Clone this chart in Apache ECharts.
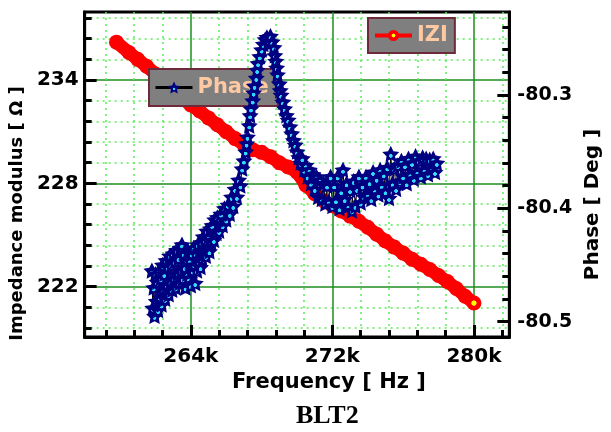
<!DOCTYPE html>
<html>
<head>
<meta charset="utf-8">
<script src="https://cdn.jsdelivr.net/npm/echarts@6/dist/echarts.min.js"></script>
<style>
  html, body { margin: 0; padding: 0; background: #fff; }
  #main { width: 611px; height: 432px; }
</style>
</head>
<body>
<div id="main"></div>
<script>
// |Z| curve (kHz, Ohm)
var freqZ = [259.8, 260.5, 261.0, 261.5, 262.0, 262.5, 263.0, 263.5, 264.0, 264.5, 265.0,
  265.5, 266.0, 266.5, 267.0, 267.5, 268.0, 268.5, 269.0, 269.5, 270.0, 270.5, 271.0,
  271.5, 272.0, 272.5, 273.0, 273.5, 274.0, 274.5, 275.0, 275.5, 276.0, 276.5, 277.0,
  277.5, 278.0, 278.5, 279.0, 279.5, 280.0];
var impedance = [236.2, 235.6, 235.2, 234.8, 234.35, 233.9, 233.45, 232.95, 232.55, 232.2, 231.8,
  231.4, 231.0, 230.6, 230.25, 229.95, 229.8, 229.55, 229.2, 228.95, 228.65, 227.9, 227.4,
  227.0, 226.7, 226.4, 226.1, 225.8, 225.45, 225.05, 224.65, 224.3, 223.95, 223.6, 223.3,
  223.0, 222.65, 222.3, 221.9, 221.45, 221.05];

// phase curve (kHz, deg)
var freqPhase = [
  261.8, 261.85, 261.9, 261.95, 262.0, 262.05, 262.1, 262.15, 262.2, 262.25,
  262.3, 262.35, 262.4, 262.45, 262.5, 262.55, 262.6, 262.65, 262.7, 262.75,
  262.8, 262.85, 262.9, 262.95, 263.0, 263.05, 263.1, 263.15, 263.2, 263.25,
  263.3, 263.35, 263.4, 263.45, 263.5, 263.55, 263.6, 263.65, 263.7, 263.75,
  263.8, 263.85, 263.9, 263.95, 264.0, 264.05, 264.1, 264.15, 264.2, 264.25,
  264.3, 264.35, 264.4, 264.45, 264.5, 264.55, 264.6, 264.65, 264.7, 264.75,
  264.8, 264.85, 264.9, 264.95, 265.0, 265.05, 265.1, 265.15, 265.2, 265.3,
  265.35, 265.45, 265.5, 265.6, 265.7, 265.8, 265.9, 266.0, 266.1, 266.2,
  266.3, 266.4, 266.5, 266.6, 266.7, 266.8, 266.9, 267.0, 267.1, 267.15,
  267.2, 267.3, 267.35, 267.4, 267.5, 267.55, 267.6, 267.7, 267.75, 267.8,
  267.9, 268.0, 268.1, 268.2, 268.3, 268.4, 268.5, 268.6, 268.7, 268.75,
  268.8, 268.85, 268.9, 269.0, 269.05, 269.1, 269.2, 269.3, 269.4, 269.5,
  269.6, 269.7, 269.8, 269.9, 270.0, 270.1, 270.2,
  270.3, 270.4, 270.5, 270.6, 270.7, 270.8, 270.9, 271.0, 271.1, 271.2,
  271.3, 271.4, 271.5, 271.6, 271.7, 271.8, 271.9, 272.0, 272.1, 272.2,
  272.3, 272.4, 272.5, 272.6, 272.7, 272.8, 272.9, 273.0, 273.1, 273.2,
  273.3, 273.4, 273.5, 273.6, 273.7, 273.8, 273.9, 274.0, 274.1, 274.2,
  274.3, 274.4, 274.5, 274.6, 274.7, 274.8, 274.9, 275.0, 275.1, 275.2,
  275.3, 275.4, 275.5, 275.6, 275.7, 275.8, 275.9, 276.0, 276.1, 276.2,
  276.3, 276.4, 276.5, 276.6, 276.7, 276.8, 276.9, 277.0, 277.1, 277.2,
  277.3, 277.4, 277.5, 277.6, 277.7, 277.8, 277.9];
var phase = [
  -80.455, -80.488, -80.47, -80.495, -80.458, -80.482, -80.465, -80.49, -80.455, -80.478,
  -80.462, -80.485, -80.45, -80.472, -80.458, -80.48, -80.446, -80.468, -80.452, -80.476,
  -80.442, -80.465, -80.45, -80.472, -80.44, -80.462, -80.447, -80.47, -80.437, -80.458,
  -80.444, -80.466, -80.435, -80.455, -80.432, -80.462, -80.44, -80.452, -80.47, -80.445,
  -80.458, -80.438, -80.462, -80.446, -80.468, -80.44, -80.455, -80.435, -80.45, -80.466,
  -80.44, -80.455, -80.432, -80.448, -80.438, -80.452, -80.43, -80.445, -80.425, -80.44,
  -80.428, -80.442, -80.42, -80.435, -80.425, -80.438, -80.418, -80.43, -80.415, -80.428,
  -80.41, -80.422, -80.408, -80.42, -80.405, -80.415, -80.4, -80.41, -80.397, -80.405,
  -80.39, -80.398, -80.383, -80.39, -80.375, -80.38, -80.365, -80.358, -80.35, -80.343,
  -80.337, -80.327, -80.318, -80.312, -80.305, -80.298, -80.292, -80.285, -80.278, -80.272,
  -80.266, -80.26, -80.255, -80.251, -80.249, -80.252, -80.248, -80.253, -80.258, -80.265,
  -80.27, -80.276, -80.282, -80.29, -80.296, -80.3, -80.306, -80.312, -80.318, -80.322,
  -80.328, -80.334, -80.34, -80.344, -80.35, -80.355, -80.36,
  -80.356, -80.366, -80.362, -80.372, -80.366, -80.378, -80.37, -80.383, -80.372, -80.39,
  -80.375, -80.392, -80.378, -80.396, -80.38, -80.394, -80.372, -80.398, -80.38, -80.393,
  -80.372, -80.4, -80.385, -80.366, -80.392, -80.378, -80.398, -80.384, -80.402, -80.376,
  -80.398, -80.383, -80.372, -80.395, -80.38, -80.39, -80.372, -80.388, -80.377, -80.392,
  -80.368, -80.384, -80.374, -80.388, -80.366, -80.38, -80.37, -80.385, -80.364, -80.391,
  -80.352, -80.378, -80.365, -80.383, -80.362, -80.376, -80.358, -80.372, -80.362, -80.378,
  -80.356, -80.37, -80.36, -80.374, -80.354, -80.368, -80.358, -80.372, -80.355, -80.366,
  -80.356, -80.37, -80.357, -80.365, -80.356, -80.368, -80.36];

// ticks
var xTicks = [264, 272, 280];
var xTickLabels = ['264k', '272k', '280k'];
var xMinor = [259.2, 260.8, 262.4, 265.6, 267.2, 268.8, 270.4, 273.6, 275.2, 276.8, 278.4, 281.6];
var zTicks = [222, 228, 234];
var zTickLabels = ['222', '228', '234'];
var zMinor = [219.6, 220.8, 223.2, 224.4, 225.6, 226.8, 229.2, 230.4, 231.6, 232.8, 235.2, 236.4, 237.6];
var phTicks = [-80.5, -80.4, -80.3];
var phTickLabels = ['-80.5', '-80.4', '-80.3'];
var phMinor = [-80.48, -80.46, -80.44, -80.42, -80.38, -80.36, -80.34, -80.32, -80.28, -80.26, -80.24];

var FONT = 'DejaVu Sans';
var peach = '#fcc9a2';

var starPath = 'path://M50,0 L64.7,29.8 L97.6,34.5 L73.8,57.7 L79.4,90.5 L50,75 L20.6,90.5 L26.2,57.7 L2.4,34.5 L35.3,29.8 Z';
var starFill = {
  type: 'radial', x: 0.5, y: 0.62, r: 0.5,
  colorStops: [{offset: 0, color: '#33d6ff'}, {offset: 0.2, color: '#33d6ff'},
               {offset: 0.26, color: '#000080'}, {offset: 1, color: '#000080'}]
};
var dotFill = {
  type: 'radial', x: 0.5, y: 0.5, r: 0.5,
  colorStops: [{offset: 0, color: '#ffff00'}, {offset: 0.3, color: '#ffff00'},
               {offset: 0.4, color: '#ff0000'}, {offset: 1, color: '#ff0000'}]
};

function pick(vals, labels) {
  return function (v) {
    for (var i = 0; i < vals.length; i++) if (Math.abs(vals[i] - v) < 1e-6) return labels[i];
    return '';
  };
}

var zData = freqZ.map(function (f, i) {
  if (i === freqZ.length - 1) return {value: [f, impedance[i]], itemStyle: {color: dotFill}};
  return [f, impedance[i]];
});
var phData = freqPhase.map(function (f, i) { return [f, phase[i]]; });

var labelStyle = {fontFamily: FONT, fontWeight: 'bold', fontSize: 20, color: '#000'};

var chart = echarts.init(document.getElementById('main'));
chart.setOption({
  animation: false,
  backgroundColor: '#fff',
  title: {
    text: 'BLT2', left: 291, top: 398,
    textStyle: {fontFamily: 'Liberation Serif', fontWeight: 'bold', fontSize: 26, color: '#000'}
  },
  grid: {left: 83, right: 91, top: 12, bottom: 95, show: true, borderColor: '#000', borderWidth: 3},
  legend: [{
    data: ['Phase'], left: 149, top: 69, orient: 'horizontal',
    itemWidth: 37, itemHeight: 15,
    backgroundColor: '#7f7f7f', borderColor: '#6e2a3a', borderWidth: 2, borderRadius: 0,
    padding: [6, 9, 6, 5],
    lineStyle: {width: 3, color: '#000'},
    textStyle: {fontFamily: FONT, fontWeight: 'bold', fontSize: 21, color: peach, lineHeight: 25}
  }, {
    data: [{name: 'IZI', itemStyle: {color: dotFill}}], left: 368, top: 18,
    itemWidth: 37, itemHeight: 14,
    backgroundColor: '#7f7f7f', borderColor: '#6e2a3a', borderWidth: 2, borderRadius: 0,
    padding: [5, 7, 5, 5],
    lineStyle: {width: 4, color: '#ff0000'},
    textStyle: {fontFamily: FONT, fontWeight: 'bold', fontSize: 21, color: peach, lineHeight: 25}
  }],
  xAxis: [{
    type: 'value', min: 258, max: 282, position: 'bottom',
    axisLine: {lineStyle: {color: '#000', width: 3}},
    axisTick: {inside: true, length: 12, lineStyle: {color: '#000', width: 3}, customValues: xTicks},
    axisLabel: Object.assign({customValues: xTicks, formatter: pick(xTicks, xTickLabels), margin: 10}, labelStyle),
    splitLine: {show: true, lineStyle: {color: '#1e8c1e', width: 1.5}},
    name: 'Frequency [ Hz ]', nameLocation: 'middle', nameGap: 27,
    nameTextStyle: {fontFamily: FONT, fontWeight: 'bold', fontSize: 21, color: '#000', padding: [0, 0, 0, 64]}
  }, {
    type: 'value', min: 258, max: 282, position: 'bottom',
    axisLine: {show: false},
    axisTick: {inside: true, length: 7, lineStyle: {color: '#000', width: 3}, customValues: xMinor},
    axisLabel: {show: false, customValues: xMinor},
    splitLine: {show: true, lineStyle: {color: '#55ee55', width: 1.5, type: [2, 4]}}
  }],
  yAxis: [{
    type: 'value', min: 219.08, max: 237.95, position: 'left',
    axisLine: {show: true, lineStyle: {color: '#000', width: 3}},
    axisTick: {show: true, inside: true, length: 12, lineStyle: {color: '#000', width: 3}, customValues: zTicks},
    axisLabel: Object.assign({customValues: zTicks, formatter: pick(zTicks, zTickLabels), margin: 6}, labelStyle),
    splitLine: {show: true, lineStyle: {color: '#1e8c1e', width: 1.5}},
    name: 'Impedance modulus [ Ω ]', nameLocation: 'middle', nameGap: 52, nameRotate: 90,
    nameTextStyle: {fontFamily: FONT, fontWeight: 'bold', fontSize: 18, color: '#000', padding: [0, 78, 0, 0]}
  }, {
    type: 'value', min: 219.08, max: 237.95, position: 'left',
    axisLine: {show: false},
    axisTick: {show: true, inside: true, length: 7, lineStyle: {color: '#000', width: 3}, customValues: zMinor},
    axisLabel: {show: false, customValues: zMinor},
    splitLine: {show: true, lineStyle: {color: '#55ee55', width: 1.5, type: [2, 4]}}
  }, {
    type: 'value', min: -80.5136, max: -80.2267, position: 'right',
    axisLine: {show: true, lineStyle: {color: '#000', width: 3}},
    axisTick: {show: true, inside: true, length: 12, lineStyle: {color: '#000', width: 3}, customValues: phTicks},
    axisLabel: Object.assign({customValues: phTicks, formatter: pick(phTicks, phTickLabels), margin: 8}, labelStyle, {fontSize: 19}),
    splitLine: {show: false},
    name: 'Phase [ Deg ]', nameLocation: 'middle', nameGap: 60, nameRotate: 90,
    nameTextStyle: {fontFamily: FONT, fontWeight: 'bold', fontSize: 20, color: '#000', padding: [0, 60, 0, 0]}
  }, {
    type: 'value', min: -80.5136, max: -80.2267, position: 'right',
    axisLine: {show: false},
    axisTick: {show: true, inside: true, length: 7, lineStyle: {color: '#000', width: 3}, customValues: phMinor},
    axisLabel: {show: false, customValues: phMinor},
    splitLine: {show: false}
  }],
  series: [{
    name: 'IZI', type: 'line', xAxisIndex: 0, yAxisIndex: 0,
    data: zData, symbol: 'circle', symbolSize: 15, showAllSymbol: true,
    itemStyle: {color: '#ff0000'},
    lineStyle: {color: '#ff0000', width: 13},
    z: 3
  }, {
    name: 'Phase', type: 'line', xAxisIndex: 0, yAxisIndex: 2,
    data: phData, symbol: starPath, symbolSize: 17, symbolKeepAspect: true, showAllSymbol: true,
    itemStyle: {color: starFill, borderWidth: 0},
    lineStyle: {color: '#000', width: 1},
    z: 4
  }]
});
</script>
</body>
</html>
